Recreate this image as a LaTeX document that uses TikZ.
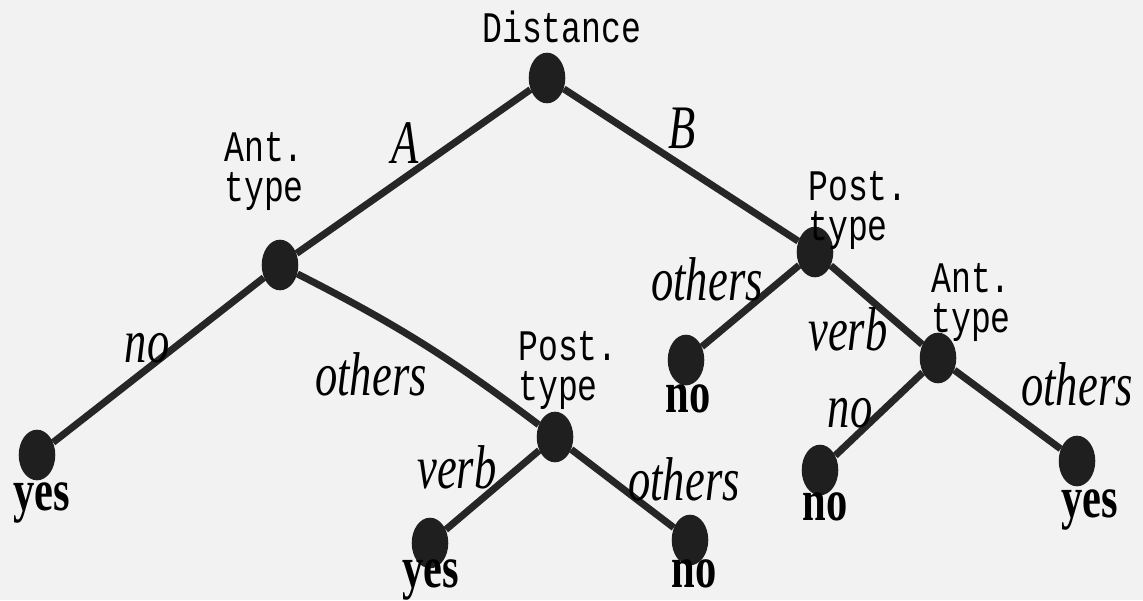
\documentclass[tikz,border=0pt]{standalone}
\usepackage{fontspec}
\setmainfont{Liberation Serif}[FakeStretch=0.72]
\setmonofont{Liberation Mono}[FakeStretch=0.76]
\usetikzlibrary{shapes.geometric}

\tikzset{
  dot/.style={ellipse, fill=black!88, inner sep=0pt, minimum width=26, minimum height=36},
  edge/.style={line width=5pt, black!85},
  attr/.style={font=\ttfamily\fontsize{31}{28}\selectfont, align=left, anchor=base west, inner sep=0pt},
  branch/.style={font=\itshape\fontsize{44}{44}\selectfont, inner sep=0pt, anchor=base},
  leaf/.style={font=\bfseries\fontsize{42}{42}\selectfont, inner sep=0pt, anchor=base}
}

\begin{document}
\begin{tikzpicture}[x=0.025cm, y=-0.025cm]

    % Paper
    \fill[black!5] (0,0) rectangle (1143,600);
    \useasboundingbox (0,0) rectangle (1143,600);

    % Tests and outcomes
    \node[dot] (dist) at (547,78) {};
    \node[dot] (antL) at (280,265) {};
    \node[dot] (postM) at (555,437) {};
    \node[dot] (postR) at (815,252) {};
    \node[dot] (antR) at (938,358) {};
    \node[dot] (yesL) at (37,455) {};
    \node[dot] (yesM) at (430,543) {};
    \node[dot] (noM) at (690,540) {};
    \node[dot] (noR) at (686,360) {};
    \node[dot] (noRR) at (820,470) {};
    \node[dot] (yesRR) at (1077,461) {};

    % Branches
    \draw[edge] (dist) -- (antL);
    \draw[edge] (dist) -- (postR);
    \draw[edge] (antL) -- (yesL);
    \draw[edge] (antL) to[bend left=5] (postM);
    \draw[edge] (postM) -- (yesM);
    \draw[edge] (postM) -- (noM);
    \draw[edge] (postR) -- (noR);
    \draw[edge] (postR) -- (antR);
    \draw[edge] (antR) -- (noRR);
    \draw[edge] (antR) -- (yesRR);

    % Test names (anchored at the baseline of the last line)
    \node[attr] (distLbl) at (482,42) {Distance};
    \node[attr] (antLLbl) at (224,201) {Ant.\\type};
    \node[attr] (postMLbl) at (518,400) {Post.\\type};
    \node[attr] (postRLbl) at (808,240) {Post.\\type};
    \node[attr] (antRLbl) at (931,332) {Ant.\\type};

    % Branch labels
    \node[branch] (lA) at (405,163) {A};
    \node[branch] (lB) at (682,148) {B};
    \node[branch] (lNoL) at (147,362) {no};
    \node[branch] (lOthL) at (371,395) {others};
    \node[branch] (lVerbM) at (457,488) {verb};
    \node[branch] (lOthM) at (684,500) {others};
    \node[branch] (lOthR) at (707,300) {others};
    \node[branch] (lVerbR) at (848,350) {verb};
    \node[branch] (lNoR) at (850,427) {no};
    \node[branch] (lOthRR) at (1077,405) {others};

    % Outcomes
    \node[leaf] (tYesL) at (42,510) {yes};
    \node[leaf] (tYesM) at (431,587) {yes};
    \node[leaf] (tNoM) at (694,587) {no};
    \node[leaf] (tNoR) at (688,412) {no};
    \node[leaf] (tNoRR) at (825,520) {no};
    \node[leaf] (tYesRR) at (1090,517) {yes};

\end{tikzpicture}
\end{document}
